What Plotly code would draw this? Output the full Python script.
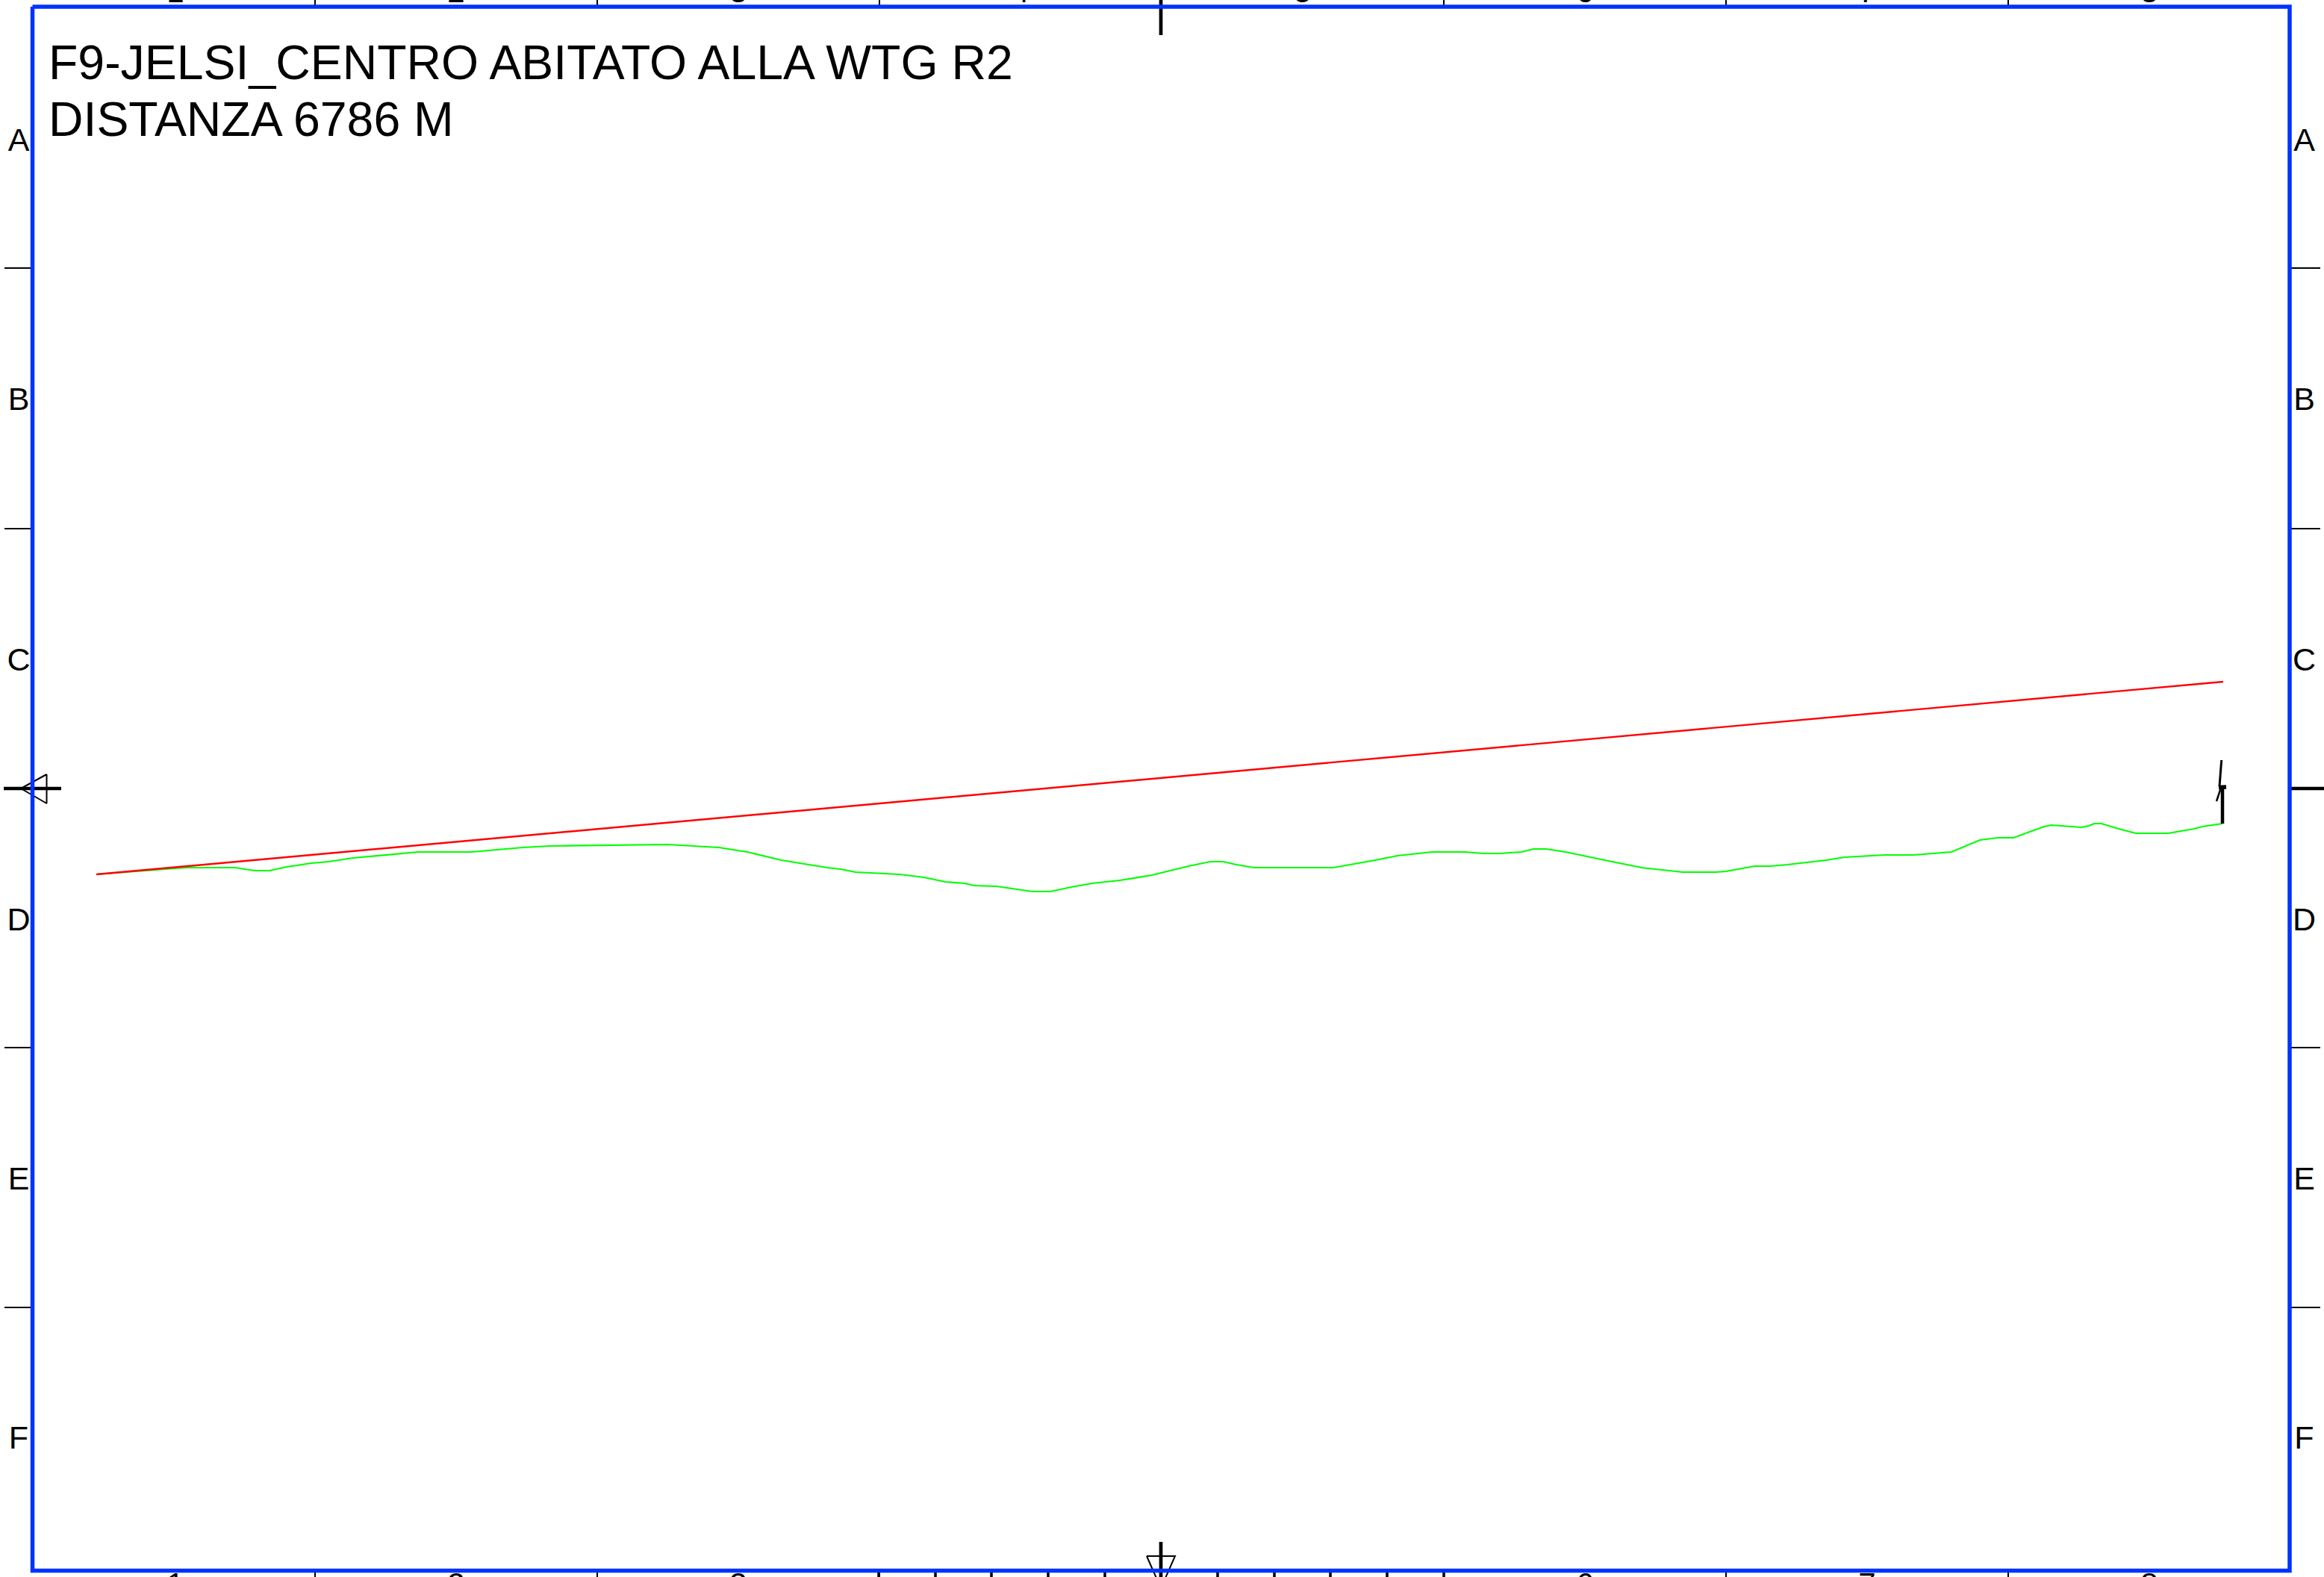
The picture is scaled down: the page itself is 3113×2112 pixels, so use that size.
import plotly.graph_objects as go

W, H = 3113, 2112

# Drawing-sheet units (1 unit = 1 sheet pixel)
terrain_x = [129, 248, 315, 341, 361, 384, 417, 440, 473, 560, 632, 700, 736, 853, 894, 963, 1001, 1047, 1108,
             1126, 1146, 1205, 1238, 1266, 1292, 1305, 1335, 1383, 1407, 1435, 1463, 1500, 1543, 1592, 1621,
             1639, 1656, 1680, 1786, 1842, 1872, 1918, 1962, 1987, 2008, 2038, 2054, 2071, 2097, 2145, 2199,
             2254, 2298, 2312, 2350, 2370, 2394, 2446, 2471, 2525, 2563, 2614, 2652, 2676, 2697, 2738, 2748,
             2788, 2798, 2805, 2815, 2838, 2861, 2904, 2939, 2950, 2977]
terrain_y = [1171, 1162, 1162, 1166, 1166, 1161, 1156, 1154, 1149, 1141, 1141, 1135, 1133, 1131, 1131, 1135, 1141,
             1152, 1162, 1164, 1168, 1171, 1175, 1181, 1183, 1186, 1187, 1194, 1194, 1188, 1183, 1179, 1172,
             1160, 1154, 1154, 1158, 1162, 1162, 1152, 1146, 1141, 1141, 1143, 1143, 1141, 1137, 1137, 1141,
             1151, 1162, 1168, 1168, 1167, 1160, 1160, 1158, 1152, 1148, 1145, 1145, 1141, 1125, 1122, 1122,
             1107, 1105, 1108, 1106, 1103, 1103, 1110, 1116, 1116, 1110, 1107, 1103]
sight_x = [129, 2978]
sight_y = [1171, 913]

frame_x = [43.5, 3067, 3067, 43.5, 43.5]
frame_y = [9, 9, 2103.5, 2103.5, 9]

column_lines = [422, 800, 1178, 1934, 2312, 2690]
row_lines = [359, 708, 1403, 1751]
bottom_minor = [1177, 1253, 1328, 1404, 1480, 1631, 1707, 1782, 1858, 1934]

top_labels = ["1", "2", "3", "4", "5", "6", "7", "8"]
top_label_x = [235, 611, 989, 1367, 1745, 2123, 2501, 2879]
bottom_labels = ["1", "2", "3", "6", "7", "8"]
bottom_label_x = [235, 611, 989, 2123, 2501, 2879]
row_labels = ["A", "B", "C", "D", "E", "F"]
row_label_y = [191, 538, 887, 1235, 1582, 1929]

title_lines = ["F9-JELSI_CENTRO ABITATO ALLA WTG R2", "DISTANZA 6786 M"]
title_y = [89.5, 165.5]

BLUE, BLACK = "#0033ff", "#000000"
FONT = "Liberation Sans"
fig = go.Figure()


def line(xs, ys, color=BLACK, width=2):
    fig.add_trace(go.Scatter(x=xs, y=ys, mode="lines", hoverinfo="skip",
                             line=dict(color=color, width=width)))


def segs(pairs, color=BLACK, width=2):
    xs, ys = [], []
    for (a, b) in pairs:
        xs += [a[0], b[0], None]
        ys += [a[1], b[1], None]
    line(xs, ys, color, width)


def labels(xs, ys, texts, size, position="middle center"):
    fig.add_trace(go.Scatter(x=xs, y=ys, mode="text", text=texts, hoverinfo="skip",
                             textposition=position, textfont=dict(family=FONT, size=size, color=BLACK)))


# Sheet grid ticks
segs([((x, 0), (x, 9)) for x in column_lines] + [((x, 2103), (x, 2112)) for x in column_lines])
segs([((6, y), (43, y)) for y in row_lines] + [((3067, y), (3108, y)) for y in row_lines])
segs([((x, 2105), (x, 2112)) for x in bottom_minor], width=3.5)

# Centring marks
segs([((1555, 0), (1555, 47)), ((1555, 2065), (1555, 2112)), ((5, 1056), (82, 1056)), ((3067, 1056), (3113, 1056))],
     width=4.7)
line([1536, 1574, 1555, 1536], [2084, 2084, 2127, 2084])
line([62.5, 62.5, 28, 62.5], [1037, 1076, 1056, 1037])

# Profile
line(terrain_x, terrain_y, "#00ff00", 2.2)
line(sight_x, sight_y, "#ff0000", 2.4)

# Turbine
segs([((2977, 1055), (2977, 1103))], width=4.5)
segs([((2975.7, 1018), (2973, 1053))], width=3)
segs([((2969, 1073), (2975, 1055))], width=2.5)
segs([((2972, 1054.5), (2982, 1054))], width=5.5)

# Frame
line(frame_x, frame_y, BLUE, 5.5)

# Texts
labels(top_label_x, [-8] * 8, top_labels, 42)
labels(bottom_label_x, [2125] * 6, bottom_labels, 42)
labels([25] * 6, row_label_y, row_labels, 43)
labels([3086.5] * 6, row_label_y, row_labels, 43)
labels([65, 65], title_y, title_lines, 64.4, "middle right")

fig.update_layout(
    width=W, height=H, margin=dict(l=0, r=0, t=0, b=0), showlegend=False,
    paper_bgcolor="white", plot_bgcolor="white",
    xaxis=dict(range=[0, W], visible=False, fixedrange=True),
    yaxis=dict(range=[H, 0], visible=False, fixedrange=True),
)
fig.write_html("out.html", config={"displayModeBar": False},
               post_script="document.body.style.margin='0';document.body.style.overflow='hidden';")
